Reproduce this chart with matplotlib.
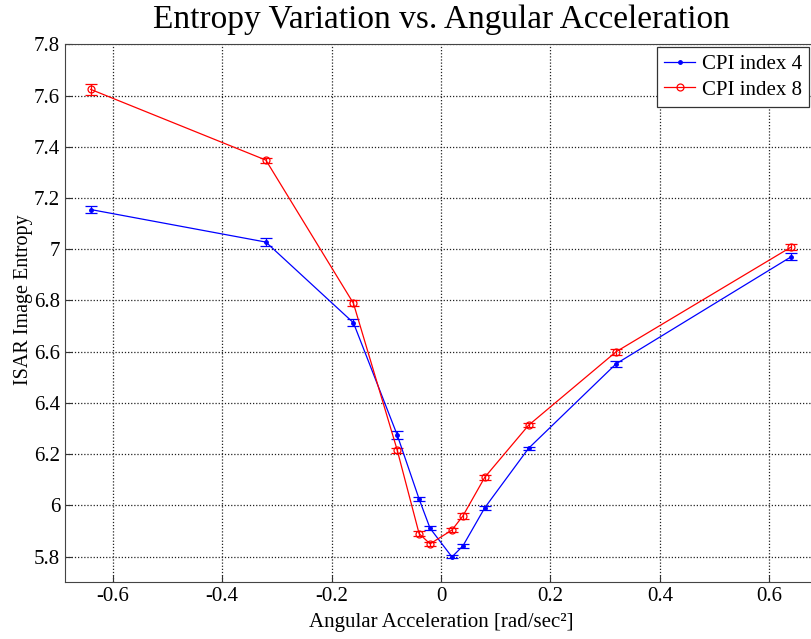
import matplotlib
matplotlib.use('Agg')
import matplotlib.pyplot as plt
from matplotlib.lines import Line2D
from matplotlib.ticker import FuncFormatter

# angular acceleration values (rad/sec^2)
accel = [-0.64, -0.32, -0.16, -0.08, -0.04, -0.02, 0.02, 0.04, 0.08, 0.16, 0.32, 0.64]

# entropy, CPI index 4
ent4 = [7.155, 7.028, 6.713, 6.275, 6.025, 5.911, 5.799, 5.842, 5.991, 6.223, 6.553, 6.971]
err4 = [0.012, 0.014, 0.014, 0.014, 0.008, 0.008, 0.006, 0.008, 0.008, 0.007, 0.012, 0.014]

# entropy, CPI index 8
ent8 = [7.624, 7.348, 6.789, 6.216, 5.890, 5.850, 5.904, 5.959, 6.110, 6.313, 6.600, 7.009]
err8 = [0.02, 0.01, 0.012, 0.01, 0.01, 0.008, 0.008, 0.01, 0.01, 0.008, 0.012, 0.01]

plt.rcParams['font.family'] = ['Liberation Serif', 'DejaVu Serif']

fig = plt.figure(figsize=(8.11, 6.39), dpi=100)
# the original picture is cropped just before the right edge of the axes
ax = fig.add_axes([65/811, (639-582.3)/639, (817-65)/811, (582.3-44.3)/639])

ax.errorbar(accel, ent4, yerr=err4, color='blue', marker='.', markersize=5,
            linewidth=0.9, elinewidth=0.9, capsize=4.5, capthick=0.9)
ax.errorbar(accel, ent8, yerr=err8, color='red', marker='o', markersize=5,
            markerfacecolor='none', markeredgewidth=0.9,
            linewidth=0.9, elinewidth=0.9, capsize=4.5, capthick=0.9)

ax.set_xlim(-0.687, 0.687)
ax.set_ylim(5.7, 7.8)
ax.set_xticks([-0.6, -0.4, -0.2, 0, 0.2, 0.4, 0.6])
ax.set_yticks([5.8, 6, 6.2, 6.4, 6.6, 6.8, 7, 7.2, 7.4, 7.6, 7.8])
ax.xaxis.set_major_formatter(FuncFormatter(lambda v, p: '%g' % round(v, 2)))
ax.yaxis.set_major_formatter(FuncFormatter(lambda v, p: '%g' % round(v, 2)))
ax.tick_params(direction='in', labelsize=15, length=5, color='#333333')
ax.grid(True, linestyle=(0, (1, 1.5)), color='#222222', linewidth=0.9)
for s in ax.spines.values():
    s.set_color('#444444')

ax.set_title('Entropy Variation vs. Angular Acceleration', fontsize=24, x=(441-65)/752, pad=12)
ax.set_xlabel('Angular Acceleration [rad/sec²]', fontsize=15, x=(441-65)/752, labelpad=5)
ax.set_ylabel('ISAR Image Entropy', fontsize=14.5)
ax.yaxis.set_label_coords(-0.043, (582.3-300)/538)

handles = [Line2D([], [], color='blue', marker='.', markersize=5, linewidth=0.9),
           Line2D([], [], color='red', marker='o', markersize=5, markerfacecolor='none',
                  markeredgewidth=0.9, linewidth=0.9)]
leg = ax.legend(handles, ['CPI index 4', 'CPI index 8'], loc='upper right',
                bbox_to_anchor=(809/811, (639-47)/639),
                bbox_transform=fig.transFigure, borderaxespad=0, fancybox=False,
                framealpha=1, edgecolor='#333333', fontsize=15,
                handlelength=1.5, borderpad=0.35, labelspacing=0.3, handletextpad=0.3)
leg.get_frame().set_linewidth(0.9)

fig.savefig('out.png', dpi=100)
